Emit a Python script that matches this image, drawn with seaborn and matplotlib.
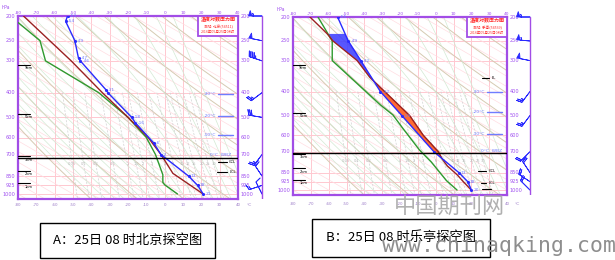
import numpy as np
import matplotlib
matplotlib.use('Agg')
import matplotlib.pyplot as plt
import matplotlib.transforms as mtrans
from matplotlib.patches import Rectangle
import seaborn as sns

# ---------------- data ----------------
# A: Beijing 54511
bj_p_t = [200, 210, 250, 293, 300, 390, 400, 500, 525, 630, 700, 850, 925, 1000]
bj_t = [-53, -54, -49, -47, -46, -32, -31, -18, -16, -6, -2, 13, 18, 21]
bj_lab = ['-53', '-54', '-49', '-47', '-46', '-31', '', '-18', '-16', '-6', '-2', '13', '18', '21']
bj_p_td = [212, 250, 300, 400, 500, 600, 700, 840, 900, 920, 1000]
bj_td = [-80, -68, -65, -36, -20, -10, -5, -1, -1, 0, 7]
bj_p_par = [200, 300, 400, 500, 600, 700, 830, 1000]
bj_par = [-77, -51, -34, -20, -9, -2, 4.5, 21]
bj_wind_p = [200, 250, 300, 400, 500, 700, 850, 925, 1000]
bj_u = [22, 20, 18, 8, 12, 6, 4, 6, 2]
bj_v = [0, -4, -6, 6, -2, 8, -6, 2, -4]

# B: Leting 54539
lt_p_t = [200, 250, 300, 400, 500, 700, 850, 925, 1000]
lt_t = [-55, -49, -42, -31, -19, -1, 13, 18, 20]
lt_lab = ['-55', '-49', '-42', '-32', '-19', '', '13', '18', '20']
lt_p_td = [200, 250, 300, 453, 497, 562, 690, 770, 915, 1000]
lt_td = [-66, -58, -58, -31, -24, -18.5, -9, -2.5, 6, 12]
lt_p_par = [200, 233, 250, 300, 350, 400, 500, 600, 700, 750, 800, 870, 925, 1000]
lt_par = [-70.5, -61, -57.6, -44, -37, -28.6, -14.6, -7, 1.5, 3.7, 6.6, 12.2, 15.5, 20]
lt_wind_p = [200, 250, 300, 400, 500, 700, 850, 925, 1000]
lt_u = [22, 22, 20, 6, 6, 6, 4, 6, 6]
lt_v = [0, -2, -4, 8, 8, 6, -6, -4, -6]

isobars = [200, 250, 300, 400, 500, 600, 700, 850, 925, 1000]
temp_ticks = list(range(-80, 41, 10))
mix_ratios = [0.05, 0.1, 0.2, 0.5, 1, 1.5, 2, 3, 5, 7, 10, 12, 15, 20, 25, 30]
mix_labels = ['0.05', '0.1', '0.2', '0.5', '1', '1.5', '2', '3', '5', '7', '10', '12', '15', '20', '25', '30']

# ---------------- style ----------------
sns.set_style('white')
plt.rcParams['font.family'] = ['DejaVu Sans', 'Noto Sans CJK SC']
CJK = ['Noto Sans CJK SC', 'DejaVu Sans']
PURPLE = '#a24de6'
PTXT = '#a050f0'
PINK = '#ffc8d0'
PINK2 = '#ffdde2'
BROWN = '#d6cab2'
GREEN_BG = '#d3e9d3'
BLUE = '#2a2aff'
GREEN = '#2f9a2f'
RED = '#9a2222'
LBLUE = '#6f7dff'

W, H = 615, 260
fig = plt.figure(figsize=(W / 100, H / 100), dpi=100)


def axes_px(x0, y0, x1, y1):
    return fig.add_axes([x0 / W, 1 - y1 / H, (x1 - x0) / W, (y1 - y0) / H])


def moist_adiabat(T0c):
    Rd, Cp, Lv, eps = 287.04, 1005.7, 2.501e6, 0.622

    def dTdp(T, p):
        Tc = T - 273.15
        es = 6.112 * np.exp(17.67 * Tc / (Tc + 243.5))
        rs = eps * es / (p - es)
        return ((Rd * T + Lv * rs) / p) / (Cp + Lv * Lv * rs * eps / (Rd * T * T))
    up = np.geomspace(1000, 200, 160)
    T = T0c + 273.15
    Ts = [T]
    for i in range(1, len(up)):
        dp = up[i] - up[i - 1]
        k1 = dTdp(T, up[i - 1])
        k2 = dTdp(T + k1 * dp, up[i])
        T = T + 0.5 * (k1 + k2) * dp
        Ts.append(T)
    Tb = T0c + 273.15 + dTdp(T0c + 273.15, 1000) * 50
    ps = np.concatenate([[1050], up])
    Ts = np.concatenate([[Tb], Ts]) - 273.15
    return Ts, ps


def draw_panel(ax, bx, p_t, t, labs, p_td, td, p_par, par, hmarks, hline_p,
               ccl, lcl, iso_lab, info_site, shade, extra_ticks):
    ax.set_yscale('log')
    ax.set_xlim(-80, 40)
    ax.set_ylim(1050, 200)
    ax.set_xticks([]); ax.set_yticks([])
    ax.yaxis.set_minor_locator(matplotlib.ticker.NullLocator())
    for s in ax.spines.values():
        s.set_color(PURPLE); s.set_linewidth(1.6)
    pg = np.geomspace(200, 1050, 200)
    lnp = np.log(1000 / pg)
    for T in range(-70, 40, 10):
        ax.axvline(T, color=PINK, lw=0.7, zorder=0)
    for p in isobars:
        ax.axhline(p, color=PINK, lw=0.7, zorder=0)
    for T0 in range(-80, 230, 10):
        ax.plot(T0 - 104 * lnp, pg, color=PINK2, lw=0.5, zorder=0)
    for th in range(230, 520, 25):
        ax.plot(th * (pg / 1000) ** 0.2857 - 273.15, pg, color=BROWN, lw=0.7, zorder=0)
    for T0 in range(-40, 48, 5):
        Ts, ps = moist_adiabat(T0)
        ax.plot(Ts, ps, color=GREEN_BG, lw=0.5, zorder=0)
    pm = np.geomspace(400, 1050, 60)
    for w, lab in zip(mix_ratios, mix_labels):
        e = w * pm / (622 + w)
        le = np.log(e / 6.112)
        tdw = 243.5 * le / (17.67 - le)
        ax.plot(tdw, pm, color='#d2d2d2', lw=0.5, ls=(0, (3, 2)), zorder=0)
        e7 = w * 760 / (622 + w)
        l7 = np.log(e7 / 6.112)
        x7 = 243.5 * l7 / (17.67 - l7)
        if x7 < 36:
            ax.text(x7, 760, lab, fontsize=2.6, color='#b8b8b8', ha='center', va='center', zorder=1)

    # shading (CAPE / CIN)
    if shade:
        pp = np.geomspace(233, 780, 300)
        te = np.interp(np.log(pp), np.log(p_t), t)
        tp = np.interp(np.log(pp), np.log(p_par), par)
        ax.fill_betweenx(pp, te, tp, where=(tp < te) & (pp < 365), color='#3a3aff', alpha=0.85, lw=0, zorder=2)
        ax.fill_betweenx(pp, te, tp, where=(tp > te) & (pp > 340), color='#ff6a33', lw=0, zorder=2)
        ax.plot(tp[tp > te], pp[tp > te], color='#c03010', lw=0.4, zorder=2)

    # profiles
    sns.lineplot(x=td, y=p_td, sort=False, estimator=None, ax=ax, color=GREEN, lw=1.0, zorder=4)
    sns.lineplot(x=par, y=p_par, sort=False, estimator=None, ax=ax, color=RED, lw=1.0, zorder=4)
    sns.lineplot(x=t, y=p_t, sort=False, estimator=None, ax=ax, color=BLUE, lw=1.0, zorder=5)
    sns.scatterplot(x=t, y=p_t, ax=ax, color=BLUE, s=5, linewidth=0, zorder=6)
    ax.set_xlabel(''); ax.set_ylabel('')
    ax.set_xlim(-80, 40); ax.set_ylim(1050, 200)
    for T, p, lb in zip(t, p_t, labs):
        if lb:
            ax.annotate(lb, (T, p), xytext=(1.5, 0), textcoords='offset points',
                        fontsize=3.2, color=LBLUE, va='center', zorder=7)

    # height marks
    for p, lb in hmarks:
        ax.plot([-80, -73.5], [p, p], color='black', lw=0.8, clip_on=False, zorder=6)
        ax.text(-76.5, p * 1.012, lb, fontsize=2.6, color='black', va='top', zorder=6)
    ax.axhline(hline_p, color='black', lw=1.0, zorder=6)

    # CCL/LCL etc
    for (x1, x2, p, lb) in [ccl, lcl] + extra_ticks:
        ax.plot([x1, x2], [p, p], color='black', lw=0.8, zorder=6)
        if lb:
            ax.text(x2 + 1.2, p, lb, fontsize=2.6, color='black', va='center', zorder=6)
    for (xt, xl1, xl2, p, lb) in iso_lab:
        ax.text(xt, p, lb, fontsize=3.2, color=LBLUE, ha='right', va='center', zorder=6)
        if xl2 > xl1:
            ax.plot([xl1, xl2], [p, p], color=LBLUE, lw=1.0, zorder=6)

    # info box
    x0b, p0b, p1b = info_site[0], 200, info_site[1]
    ax.add_patch(Rectangle((x0b, p0b), 40 - x0b, p1b - p0b, fill=True, fc='white',
                           ec=PURPLE, lw=1.3, zorder=8))
    xc = (x0b + 40) / 2
    ax.text(xc, 207, '温度对数压力图', family=CJK, fontsize=3.6, color='#ff2a2a',
            fontweight='bold', ha='center', va='center', zorder=9)
    ax.text(xc, 221, info_site[2], family=CJK, fontsize=2.6, color='#ff2a2a',
            ha='center', va='center', zorder=9)
    ax.text(xc, 231, '2016年05月25日08时', family=CJK, fontsize=2.6, color='#ff2a2a',
            ha='center', va='center', zorder=9)

    # tick labels
    tx = ax.get_xaxis_transform()
    for T in temp_ticks:
        ax.text(T, 1.008, str(T), transform=tx, fontsize=3.2, color=PTXT, ha='center', va='bottom')
        ax.text(T, -bx['bot'], str(T), transform=tx, fontsize=2.9, color='#9c7cc8', ha='center', va='center')
    ax.text(46, -bx['bot'], '°C', transform=tx, fontsize=3.2, color='#9c7cc8', ha='center', va='center')
    ty = mtrans.blended_transform_factory(ax.transAxes, ax.transData)
    for p in isobars:
        ax.text(-0.012, p, str(p), transform=ty, fontsize=3.6, color=PTXT, ha='right', va='center')
        ax.text(1.012, p, str(p), transform=ty, fontsize=3.6, color=PTXT, ha='left', va='center')
    ax.text(-0.035, 1.03, 'hPa', transform=ax.transAxes, fontsize=3.4, color=PTXT, ha='right', va='bottom')


def draw_barbs(axb, wp, u, v, xline):
    axb.set_yscale('log')
    axb.set_ylim(1050, 200)
    axb.set_xlim(0, 37)
    axb.axis('off')
    axb.plot([xline, xline], [200, 1050], color=PURPLE, lw=1.0)
    axb.barbs([xline] * len(wp), wp, u, v, length=4.4, color=BLUE, linewidth=0.6,
              barb_increments=dict(half=2, full=4, flag=20), sizes=dict(emptybarb=0.0),
              clip_on=False)


# ---------------- left panel ----------------
axL = axes_px(18, 16, 238, 199.4)
draw_panel(axL, {'bot': 0.032}, bj_p_t, bj_t, bj_lab, bj_p_td, bj_td, bj_p_par, bj_par,
           [(311, '9km'), (485, '5km'), (712, '3km'), (813, '2km'), (908, '1km')], 722,
           (29.1, 34, 749, 'CCL'), (28.6, 34, 818, 'LCL'),
           [(28, 29, 37, 405, '-30°C'), (28, 29, 37, 492, '-20°C'), (28, 29, 37, 588, '-10°C'),
            (36.5, 0, 0, 700, '0°C  WBZ')],
           (18.2, 240, '测站: 北京(54511)'), False, [])
axLb = axes_px(240, 16, 277, 199.4)
draw_barbs(axLb, bj_wind_p, bj_u, bj_v, 22)

# ---------------- right panel ----------------
axR = axes_px(293, 17, 507, 195.3)
draw_panel(axR, {'bot': 0.05}, lt_p_t, lt_t, lt_lab, lt_p_td, lt_td, lt_p_par, lt_par,
           [(312, '9km'), (488, '5km'), (714, '3km'), (817, '2km'), (911, '1km')], 708,
           (23.9, 28.4, 838, 'CCL'), (25.6, 28.4, 938, 'LCL'),
           [(28, 29, 37, 401, '-30°C'), (28, 29, 37, 485, '-20°C'), (28, 29, 37, 594, '-10°C'),
            (37, 0, 0, 693, '0°C  WBZ')],
           (17.8, 241, '测站: 乐亭(54539)'), True,
           [(26, 30, 353, 'EL'), (26, 31, 990, '')])
axRb = axes_px(508, 17, 545, 195.3)
draw_barbs(axRb, lt_wind_p, lt_u, lt_v, 22)

# ---------------- captions ----------------
for (x0, y0, x1, y1, txt) in [(40, 223, 215, 258, 'A：25日 08 时北京探空图'),
                              (312, 219, 490, 257, 'B：25日 08 时乐亭探空图')]:
    fig.add_artist(Rectangle((x0 / W, 1 - y1 / H), (x1 - x0) / W, (y1 - y0) / H,
                             transform=fig.transFigure, fill=False, ec='black', lw=1.0))
    fig.text((x0 + x1) / 2 / W, 1 - (y0 + y1) / 2 / H, txt, family=CJK, fontsize=9.5,
             color='black', ha='center', va='center')

# watermark
fig.text(450 / W, 1 - 206 / H, '中国期刊网', family=CJK, fontsize=16, color='#a8a8a8',
         ha='center', va='center', zorder=20, alpha=0.9)
fig.text(499 / W, 1 - 246 / H, 'www.chinaqking.com', family=['DejaVu Sans Mono'], fontsize=15.5,
         color='#8e8e8e', ha='center', va='center', zorder=20)

fig.savefig('out.png', dpi=100)
